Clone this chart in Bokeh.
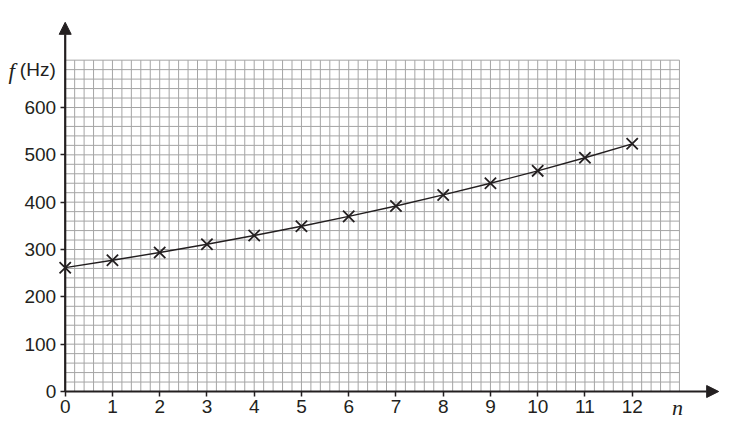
import numpy as np
from bokeh.plotting import figure
from bokeh.models import LinearAxis, FixedTicker, Arrow, NormalHead, Label, Range1d
from bokeh.embed import file_html
from bokeh.resources import INLINE

# ---- data ----
n_values = list(range(13))
f_values = [261.6, 277.2, 293.7, 311.1, 329.6, 349.2, 370.0, 392.0, 415.3, 440.0, 466.2, 493.9, 523.3]
x_ticks = list(range(13))
y_ticks = [0, 100, 200, 300, 400, 500, 600]

INK = "#231f20"
GRID = "#a5a5a5"

W, H = 722, 429
PX_X = 47.25          # px per unit n
PX_Y = 0.47333        # px per Hz
X0 = 64.7             # fig px of n=0
Y0 = 391.0            # fig px (from top) of f=0

p = figure(width=W, height=H,
           x_range=Range1d(-X0 / PX_X, (W - X0) / PX_X),
           y_range=Range1d(-(H - Y0) / PX_Y, Y0 / PX_Y),
           x_axis_type=None, y_axis_type=None,
           min_border=0, toolbar_location=None, output_backend="svg",
           outline_line_color=None, background_fill_color="white",
           border_fill_color="white")

# graph-paper grid
gx = np.round(np.arange(0, 13.0001, 0.2), 4)
gy = np.arange(0, 700.001, 20)
p.segment(x0=gx, y0=np.zeros_like(gx), x1=gx, y1=np.full_like(gx, 700.0),
          line_color=GRID, line_width=1)
p.segment(x0=np.zeros_like(gy), y0=gy, x1=np.full_like(gy, 13.0), y1=gy,
          line_color=GRID, line_width=1)

# data
p.line(n_values, f_values, line_color=INK, line_width=1.4)
p.scatter(n_values, f_values, marker="x", size=16, line_color=INK, line_width=1.8)

# axes (ticks + labels) fixed at 0
common = dict(fixed_location=0, axis_line_color=None, major_tick_out=5,
              major_tick_in=0, minor_tick_line_color=None,
              major_tick_line_color=INK, major_tick_line_width=1.5,
              major_label_text_font="Liberation Sans",
              major_label_text_font_size="19px",
              major_label_text_color=INK)
xaxis = LinearAxis(ticker=FixedTicker(ticks=x_ticks), major_label_standoff=3, **common)
p.add_layout(xaxis, "below")
yaxis = LinearAxis(ticker=FixedTicker(ticks=y_ticks), major_label_standoff=4, **common)
p.add_layout(yaxis, "left")

# axis lines with arrow heads
p.add_layout(Arrow(x_start=0, y_start=0, x_end=13.83, y_end=0,
                   line_color=INK, line_width=2.2,
                   end=NormalHead(size=12, fill_color=INK, line_color=INK, line_width=1)))
p.add_layout(Arrow(x_start=0, y_start=0, x_end=0, y_end=780,
                   line_color=INK, line_width=2.2,
                   end=NormalHead(size=12, fill_color=INK, line_color=INK, line_width=1)))

# axis titles
p.add_layout(Label(x=-1.13, y=677, text="f", text_font="Liberation Serif",
                   text_font_style="italic", text_font_size="23px",
                   text_color=INK, text_align="center", text_baseline="middle"))
p.add_layout(Label(x=-0.58, y=681, text="(Hz)", text_font="Liberation Sans",
                   text_font_size="19px", text_color=INK,
                   text_align="center", text_baseline="middle"))
p.add_layout(Label(x=12.96, y=-34, text="n", text_font="Liberation Serif",
                   text_font_style="italic", text_font_size="22px",
                   text_color=INK, text_align="center", text_baseline="middle"))

open("out.html", "w").write(file_html(p, INLINE))
